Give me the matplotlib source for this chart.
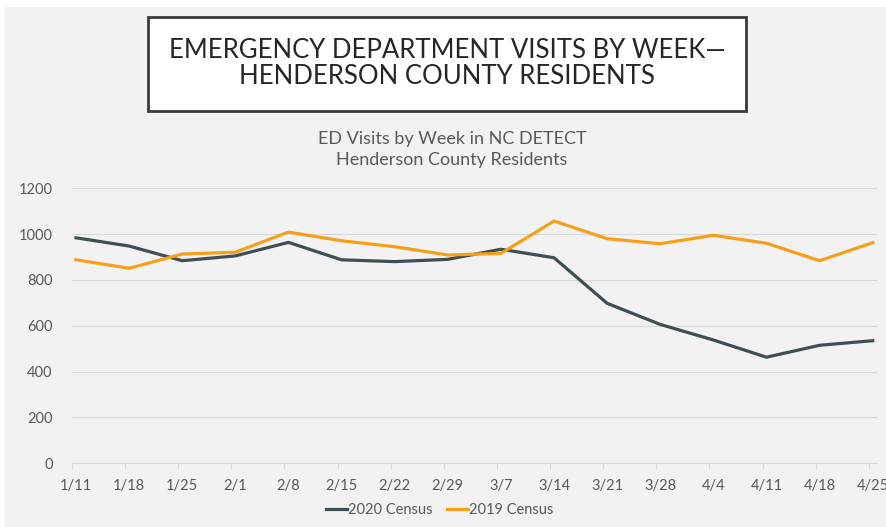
import numpy as np
import matplotlib
matplotlib.use("Agg")
import matplotlib.pyplot as plt
from matplotlib.patches import Rectangle

# Chart data
weeks = ["1/11", "1/18", "1/25", "2/1", "2/8", "2/15", "2/22", "2/29",
         "3/7", "3/14", "3/21", "3/28", "4/4", "4/11", "4/18", "4/25"]
visits_2020 = [984, 948, 884, 905, 964, 888, 880, 890,
               934, 897, 698, 606, 538, 463, 515, 535]
visits_2019 = [888, 851, 913, 921, 1009, 971, 945, 909,
               916, 1057, 980, 958, 995, 960, 884, 963]
y_ticks = [0, 200, 400, 600, 800, 1000, 1200]

plt.rcParams["font.family"] = ["Lato", "DejaVu Sans"]

BG = "#f2f2f2"
TEXT = "#595959"
GRID = "#d9d9d9"
DARK = "#3e4e55"
ORANGE = "#f6a01a"

W, H = 886, 527
fig = plt.figure(figsize=(W / 100, H / 100), dpi=100)
fig.patch.set_facecolor("white")

# gray slide background (white strip along top and left)
fig.patches.append(Rectangle((5 / W, 0), 1 - 5 / W, (H - 7) / H,
                             transform=fig.transFigure, facecolor=BG,
                             edgecolor="none", zorder=-2))

# title box
fig.patches.append(Rectangle((148 / W, 1 - 111 / H), (746 - 148) / W, (111 - 17) / H,
                             transform=fig.transFigure, facecolor="white",
                             edgecolor="#3a3a3a", linewidth=2, zorder=-1))
fig.text(447 / W, 1 - 50 / H, "EMERGENCY DEPARTMENT VISITS BY WEEK\u2014",
         ha="center", va="center", fontsize=18.5, color="#262626")
fig.text(447 / W, 1 - 77 / H, "HENDERSON COUNTY RESIDENTS",
         ha="center", va="center", fontsize=18.5, color="#262626")

# chart subtitle
fig.text(452 / W, 1 - 139 / H, "ED Visits by Week in NC DETECT",
         ha="center", va="center", fontsize=13, color=TEXT)
fig.text(452 / W, 1 - 160 / H, "Henderson County Residents",
         ha="center", va="center", fontsize=13, color=TEXT)

ax = fig.add_axes([72 / W, (H - 463.3) / H, (877 - 72) / W, (463.3 - 188.3) / H])
ax.set_facecolor("none")
ax.set_zorder(2)

x = np.arange(len(weeks))
ax.plot(x, visits_2020, color=DARK, linewidth=2.3, label="2020 Census",
        solid_joinstyle="round", zorder=3)
ax.plot(x, visits_2019, color=ORANGE, linewidth=2.3, label="2019 Census",
        solid_joinstyle="round", zorder=3)

ax.set_ylim(0, 1200)
ax.set_xlim(-0.075, 15.08)
ax.set_yticks(y_ticks)
ax.set_yticklabels([str(v) for v in y_ticks])
ax.yaxis.grid(True, color=GRID, linewidth=0.8)
ax.set_axisbelow(True)
ax.tick_params(axis="y", length=0, pad=14, labelsize=10.5, labelcolor=TEXT)

# tick marks slightly left of points, labels centered under points
ax.set_xticks(x - 0.075)
ax.set_xticklabels([])
ax.set_xticks(x, minor=True)
ax.set_xticklabels(weeks, minor=True)
ax.tick_params(axis="x", which="major", length=4, color=GRID, width=0.8)
ax.tick_params(axis="x", which="minor", length=0, pad=11, labelsize=10.5, labelcolor=TEXT)

for side in ["top", "right", "left"]:
    ax.spines[side].set_visible(False)
ax.spines["bottom"].set_color(GRID)
ax.spines["bottom"].set_linewidth(0.8)

leg = fig.legend(loc="center", bbox_to_anchor=(440 / W, 1 - 510 / H), ncol=2,
                 frameon=False, fontsize=10.5, handlelength=1.4, handletextpad=0.1,
                 columnspacing=1.0)
for t in leg.get_texts():
    t.set_color(TEXT)

fig.savefig("out.png", dpi=100, facecolor=fig.get_facecolor())
